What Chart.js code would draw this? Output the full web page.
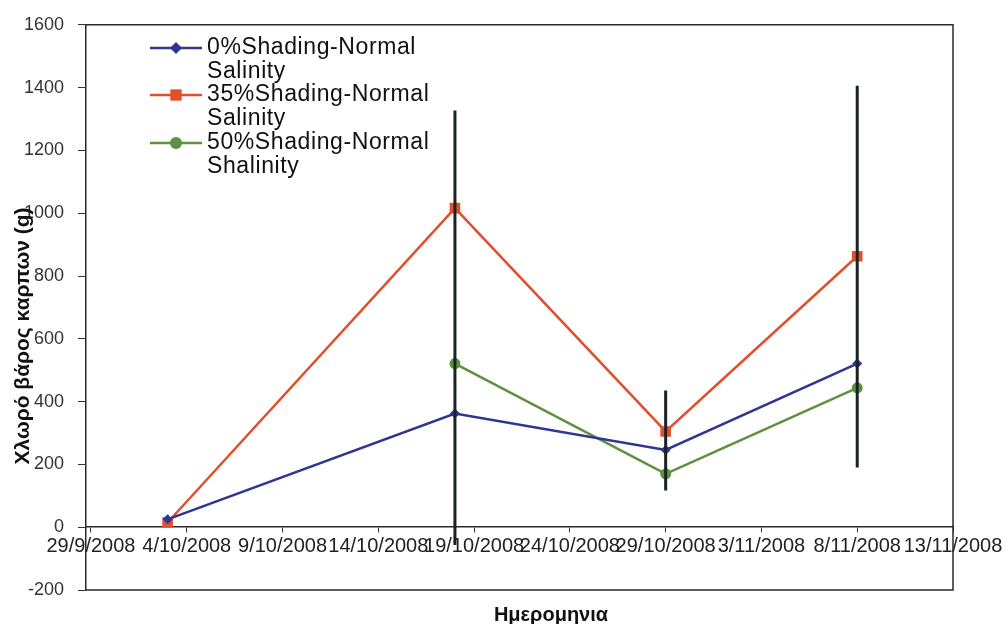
<!DOCTYPE html>
<html><head><meta charset="utf-8">
<script src="https://cdn.jsdelivr.net/npm/chart.js@4/dist/chart.umd.min.js"></script>
<style>html,body{margin:0;padding:0;background:#fff}#wrap{width:1007px;height:624px;position:relative}</style>
</head><body><div id="wrap"><canvas id="c" width="1007" height="624"></canvas></div>
<script>
// ---- data ----
const startDate = '29/9/2008';
const sampleDates = ['3/10/2008', '18/10/2008', '29/10/2008', '8/11/2008'];
const tickLabels = ['29/9/2008', '4/10/2008', '9/10/2008', '14/10/2008', '19/10/2008', '24/10/2008', '29/10/2008', '3/11/2008', '8/11/2008', '13/11/2008'];
const seriesNames = ['0%Shading-Normal Salinity', '35%Shading-Normal Salinity', '50%Shading-Normal Shalinity'];
const shading0 = [25, 362, 246, 521];
const shading35 = [15, 1016, 305, 863];
const shading50 = [null, 521, 170, 444];
const errDates = ['18/10/2008', '29/10/2008', '8/11/2008'];
const errLow = [-57, 117, 190];
const errHigh = [1327, 435, 1406];
const yTitle = 'Χλωρό βάρος καρπων (g)';
const xTitle = 'Ημερομηνια';

// ---- helpers ----
function dayNum(s) { const p = s.split('/').map(Number); return Date.UTC(p[2], p[1] - 1, p[0]) / 86400000; }
const d0 = dayNum(startDate);
const xDays = sampleDates.map(d => dayNum(d) - d0);
const errDays = errDates.map(d => dayNum(d) - d0);
const FONT = "'Liberation Sans', Arial, sans-serif";

const colors = ['#2F3590', '#E0502D', '#5E9140'];
const styles = [
  { pointStyle: 'rectRot', radius: 5 },
  { pointStyle: 'rect', radius: 7.5 },
  { pointStyle: 'circle', radius: 5.5 }
];
const legendStyles = [
  { pointStyle: 'rectRot', radius: 6 },
  { pointStyle: 'rect', radius: 8 },
  { pointStyle: 'circle', radius: 6 }
];
const seriesVals = [shading0, shading35, shading50];

const datasets = [];
errDays.forEach((d, i) => {
  datasets.push({
    label: 'err' + i,
    data: [{ x: d, y: errLow[i] }, { x: d, y: errHigh[i] }],
    showLine: true, borderColor: '#1b2224', borderWidth: 3, pointRadius: 0,
    order: 0
  });
});
seriesVals.forEach((vals, k) => {
  datasets.push({
    label: seriesNames[k],
    data: xDays.map((x, i) => vals[i] === null ? null : { x: x, y: vals[i] }).filter(p => p),
    showLine: true, borderColor: colors[k], backgroundColor: colors[k],
    borderWidth: 2.5, pointStyle: styles[k].pointStyle, pointRadius: styles[k].radius,
    pointBorderWidth: 0, order: 1
  });
});

const decor = {
  id: 'decor',
  afterDraw(chart) {
    const ctx = chart.ctx, a = chart.chartArea;
    ctx.save();
    ctx.strokeStyle = '#2a2a2a'; ctx.lineWidth = 1.5;
    ctx.beginPath();
    ctx.moveTo(a.left, a.top); ctx.lineTo(a.right, a.top); ctx.lineTo(a.right, a.bottom); ctx.lineTo(a.left, a.bottom);
    ctx.stroke();
    ctx.fillStyle = '#111';
    ctx.font = 'bold 20px ' + FONT;
    ctx.textAlign = 'center'; ctx.textBaseline = 'middle';
    ctx.fillText(xTitle, 551, 615);
    ctx.font = 'bold 21px ' + FONT;
    ctx.translate(23, 336); ctx.rotate(-Math.PI / 2);
    ctx.fillText(yTitle, 0, 0);
    ctx.restore();

    ctx.save();
    ctx.font = '23px ' + FONT;
    try { ctx.letterSpacing = '0.6px'; } catch (e) {}
    ctx.textAlign = 'left'; ctx.textBaseline = 'middle';
    const ys = [48, 95, 143];
    seriesNames.forEach((name, k) => {
      const y = ys[k];
      ctx.strokeStyle = colors[k]; ctx.fillStyle = colors[k]; ctx.lineWidth = 2.5;
      ctx.beginPath(); ctx.moveTo(150, y); ctx.lineTo(202, y); ctx.stroke();
      Chart.helpers.drawPoint(ctx, { pointStyle: legendStyles[k].pointStyle, radius: legendStyles[k].radius, borderWidth: 0, rotation: 0 }, 176, y);
      const sp = name.lastIndexOf(' ');
      ctx.fillStyle = '#111';
      ctx.fillText(name.slice(0, sp), 207, y);
      ctx.fillText(name.slice(sp + 1), 207, y + 24);
    });
    ctx.restore();
  }
};

new Chart(document.getElementById('c'), {
  type: 'scatter',
  data: { datasets },
  options: {
    responsive: false, animation: false,
    layout: { padding: { left: 0, top: 22, right: 54, bottom: 34 } },
    plugins: { legend: { display: false }, tooltip: { enabled: false } },
    scales: {
      x: {
        type: 'linear', position: { y: 0 }, min: -0.26, max: 45,
        afterBuildTicks(s) { s.ticks = tickLabels.map((_, i) => ({ value: i * 5 })); },
        grid: { display: true, drawOnChartArea: false, drawTicks: true, tickLength: 5, color: '#333' },
        border: { display: true, color: '#2a2a2a', width: 1.5 },
        ticks: {
          autoSkip: false, maxRotation: 0, minRotation: 0, padding: 2,
          color: '#222', font: { family: FONT, size: 20 },
          callback: v => tickLabels[Math.round(v / 5)]
        }
      },
      y: {
        min: -200, max: 1600,
        afterFit(s) { s.width = 86; },
        grid: { display: true, drawOnChartArea: false, drawTicks: true, tickLength: 8, color: '#333' },
        border: { display: true, color: '#2a2a2a', width: 1.5 },
        ticks: { stepSize: 200, padding: 14, color: '#333', font: { family: FONT, size: 18 }, callback: v => String(v) }
      }
    }
  },
  plugins: [decor]
});
</script></body></html>
